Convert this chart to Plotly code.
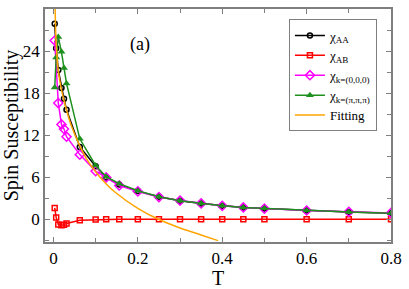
import plotly.graph_objects as go

T = [0.003, 0.0065, 0.0115, 0.019, 0.025, 0.031, 0.0625, 0.1, 0.125, 0.156,
     0.2, 0.25, 0.3, 0.35, 0.4, 0.45, 0.5, 0.6, 0.7, 0.8]
chi_AA = [27.9, 24.4, 21.3, 18.75, 17.2, 15.65, 10.35, 7.6, 6.0, 5.0,
          4.05, 3.25, 2.67, 2.27, 1.96, 1.73, 1.58, 1.29, 1.07, 0.89]
chi_AB = [1.65, 0.3, -0.7, -0.8, -0.75, -0.55, -0.1, 0.0, 0.05, 0.05,
          0.05, 0.05, 0.05, 0.05, 0.05, 0.05, 0.05, 0.05, 0.05, 0.05]
chi_k0 = [25.5, None, 16.6, 13.55, 12.9, 11.8, 9.25, 6.9, 6.0, 4.85,
          4.0, 3.2, 2.7, 2.3, 1.96, 1.73, 1.55, 1.29, 1.1, 0.95]
chi_kpi = [18.8, 23.1, 26.0, 23.9, 21.6, 19.4, 11.5, 7.7, 6.1, 5.1,
           4.1, 3.25, 2.67, 2.27, 1.96, 1.73, 1.6, 1.29, 1.07, 0.89]
fit_T = [0.004, 0.0065, 0.0115, 0.019, 0.025, 0.031, 0.044, 0.0625, 0.08, 0.1,
         0.121, 0.144, 0.2, 0.25, 0.3, 0.35, 0.39]
fit_y = [30.0, 25.0, 21.2, 18.5, 17.0, 15.6, 13.1, 10.5, 8.5, 6.8,
         5.3, 4.0, 1.6, 0.0, -1.2, -2.2, -3.0]

x_ticks = [0, 0.2, 0.4, 0.6, 0.8]
x_labels = ["0", "0.2", "0.4", "0.6", "0.8"]
y_ticks = [0, 6, 12, 18, 24, 30]

FONT = "Liberation Serif, Times New Roman, Times, serif"

fig = go.Figure()
fig.add_trace(go.Scatter(x=T, y=chi_AA, mode="lines+markers", name="χ<sub>AA</sub>",
                         line=dict(color="black", width=1.5),
                         marker=dict(symbol="circle-open", size=5, color="black",
                                     line=dict(width=1.5))))
fig.add_trace(go.Scatter(x=T, y=chi_AB, mode="lines+markers", name="χ<sub>AB</sub>",
                         line=dict(color="#ff0000", width=1.5),
                         marker=dict(symbol="square-open", size=5, color="#ff0000",
                                     line=dict(width=1.5))))
fig.add_trace(go.Scatter(x=T, y=chi_k0, mode="lines+markers", name="χ<sub>k=(0,0,0)</sub>",
                         connectgaps=True,
                         line=dict(color="#ff00ff", width=1.5),
                         marker=dict(symbol="diamond-open", size=7, color="#ff00ff",
                                     line=dict(width=1.5))))
fig.add_trace(go.Scatter(x=T, y=chi_kpi, mode="lines+markers", name="χ<sub>k=(π,π,π)</sub>",
                         line=dict(color="#1e901e", width=1.5),
                         marker=dict(symbol="triangle-up", size=7, color="#1e901e")))
fig.add_trace(go.Scatter(x=fit_T, y=fit_y, mode="lines", name="Fitting",
                         line=dict(color="#ffa500", width=1.5, shape="spline")))

axis_common = dict(showline=True, linecolor="#7f7f7f", linewidth=1.5, mirror="ticks",
                   ticks="inside", ticklen=5, tickwidth=1, tickcolor="#7f7f7f",
                   showgrid=False, zeroline=False,
                   tickfont=dict(family=FONT, size=17, color="black"))

fig.update_xaxes(range=[-0.02, 0.8], tickvals=x_ticks, ticktext=x_labels,
                 minor=dict(dtick=0.1, tick0=0, ticks="inside", ticklen=4,
                            tickcolor="#7f7f7f", showgrid=False),
                 title=dict(text="T", font=dict(family=FONT, size=20, color="black"),
                            standoff=0),
                 **axis_common)
fig.update_yaxes(range=[-3.2, 30], tickvals=y_ticks,
                 minor=dict(dtick=3, tick0=0, ticks="inside", ticklen=4,
                            tickcolor="#7f7f7f", showgrid=False),
                 title=dict(text="Spin Susceptibility",
                            font=dict(family=FONT, size=20, color="black"), standoff=2),
                 **axis_common)

fig.add_annotation(x=0.205, y=24.9, text="(a)", showarrow=False,
                   font=dict(family=FONT, size=18, color="black"))

fig.update_layout(
    width=409, height=289,
    margin=dict(l=42, r=11, t=7, b=35),
    plot_bgcolor="white", paper_bgcolor="white",
    legend=dict(x=0.705, y=0.955, xanchor="left", yanchor="top",
                bgcolor="white", bordercolor="#7f7f7f", borderwidth=1,
                font=dict(family=FONT, size=13, color="black"),
                tracegroupgap=0, itemwidth=30),
)

fig.write_html("out.html", config={"displayModeBar": False},
               post_script="document.body.style.margin='0';document.body.style.padding='0';")
